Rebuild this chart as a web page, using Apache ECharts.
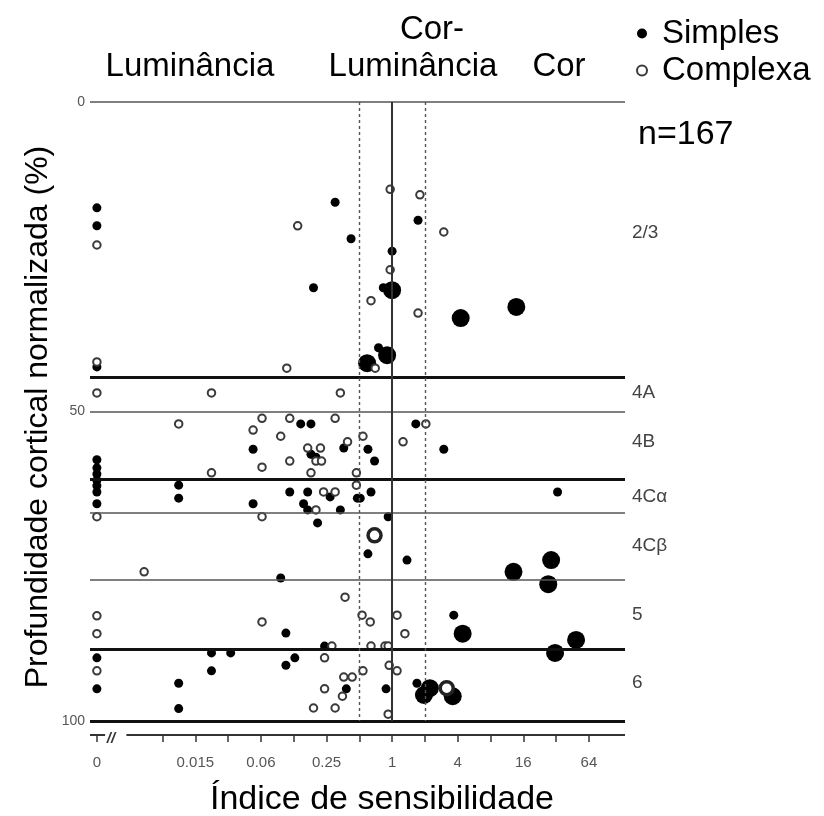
<!DOCTYPE html>
<html><head><meta charset="utf-8">
<script src="https://cdn.jsdelivr.net/npm/echarts@6/dist/echarts.min.js"></script>
<style>html,body{margin:0;padding:0;background:#fff}#c{width:824px;height:816px}</style>
</head><body><div id="c"></div><script>
// Sensitivity index (0 = none) and normalized cortical depth (%)
const simples = [
  [0,17.1],[0,20.0],[0.30,16.2],[0.42,22.1],[0.19,30.0],[0,42.8],[1.73,19.1],[1.0,24.1],[0.83,30.0],[0.75,39.7],
  [0.145,52.0],[0.18,52.0],[0.053,56.1],[0.18,56.9],[0.2,57.4],[0.36,55.9],[1.65,52.0],[0.60,56.1],[0.69,58.0],[2.98,56.1],
  [0,57.8],[0,59.1],[0,60.1],[0,61.1],[0,62.0],[0,63.0],[0,64.9],
  [0.011,61.9],[0.011,64.0],[0.115,63.0],[0.168,63.0],[0.27,63.8],[0.48,64.0],[0.51,64.0],[0.64,63.0],[33,63.0],
  [0.053,64.9],[0.154,64.9],[0.168,65.9],[0.335,65.9],[0.207,68.0],[0.92,67.0],[0.60,73.0],[1.37,74.0],[0.095,76.9],
  [0,89.8],[0,94.8],[0.011,93.9],[0.011,98.0],[0.022,89.0],[0.022,91.9],[0.033,89.0],[0.106,85.8],[0.106,91.0],
  [0.128,89.8],[0.24,87.9],[0.38,94.8],[0.88,94.8],[3.68,82.9],[1.69,93.9]
];
const simplesGrandes = [
  [1.0,30.4],[4.26,34.9],[13.8,33.1],[0.90,40.9],[0.59,42.2],[13.0,75.9],[28.8,74.0],[27.1,77.9],
  [4.44,85.9],[48.8,86.9],[31.3,89.0],[1.96,95.8],[2.22,94.7],[3.60,96.0]
];
const complexa = [
  [0,23.1],[0.136,20.0],[0.96,14.1],[1.80,15.0],[2.98,21.0],[0.96,27.1],[0.64,32.1],[1.73,34.1],[0,42.0],[0.108,43.0],
  [0.70,43.0],[0,47.0],[0.022,47.0],[0.335,47.0],
  [0.011,52.0],[0.064,51.1],[0.115,51.1],[0.30,51.1],[2.04,52.0],[0.053,53.0],[0.095,54.0],[0.168,55.9],[0.22,55.9],
  [0.39,54.9],[0.54,54.0],[1.26,54.9],[0.20,58.0],[0.225,58.0],[0.115,58.0],[0.064,59.0],[0.022,59.9],[0.18,59.9],
  [0.47,59.9],[0.47,61.9],[0.235,63.0],[0.30,63.0],[0.20,65.9],[0,67.0],[0.064,67.0],
  [0.0053,75.9],[0.37,80.0],[0,83.0],[0,85.9],[0,91.9],[0.064,84.0],[0.53,82.9],[0.63,84.0],[1.11,82.9],[1.31,85.9],
  [0.28,87.9],[0.64,87.9],[0.86,87.9],[0.92,87.9],[0.24,89.8],[0.94,91.0],[1.11,91.9],[0.54,91.9],[0.36,92.9],
  [0.43,92.9],[0.24,94.8],[0.35,96.0],[0.19,97.9],[0.30,97.9],[0.92,98.9]
];
const complexaGrandes = [[0.69,70.0],[3.17,94.7]];

const tickValues = [0, 0.0078125, 0.015625, 0.03125, 0.0625, 0.125, 0.25, 0.5, 1, 2, 4, 8, 16, 32, 64];
const labelValues = [0, 0.015625, 0.0625, 0.25, 1, 4, 16, 64];
const tickLabels = ['0', '0.015', '0.06', '0.25', '1', '4', '16', '64'];
const depthLabels = [0, 50, 100];
const layerBounds = [0, 44.4, 50, 60.9, 66.4, 77.2, 88.4, 100];
const thickBounds = [44.4, 60.9, 88.4, 100];
const layerNames = ['2/3', '4A', '4B', '4C\u03b1', '4C\u03b2', '5', '6'];
const layerNameDepth = [21.2, 47.0, 54.9, 63.7, 71.7, 82.9, 93.9];
const refLines = [0.5, 1, 2];
const nCells = 'n=167';

const ZERO_POS = -9;
const toX = v => v === 0 ? ZERO_POS : Math.log2(v);
const conv = arr => arr.map(p => [toX(p[0]), p[1]]);
const FONT = 'Liberation Sans, Arial, sans-serif';

const chart = echarts.init(document.getElementById('c'), null, {renderer: 'canvas'});

const hLines = layerBounds.map(b => {
  const thick = thickBounds.indexOf(b) >= 0;
  return {yAxis: b, lineStyle: {color: thick ? '#111' : '#555', width: thick ? 3 : 1.6, type: 'solid'}};
});
const vLines = refLines.map(r => ({
  xAxis: toX(r),
  lineStyle: r === 1 ? {color: '#333', width: 2, type: 'solid'} : {color: '#555', width: 1.4, type: [3, 3]}
}));

const labelMap = {};
labelValues.forEach((v, i) => { labelMap[toX(v).toFixed(3)] = tickLabels[i]; });

chart.setOption({
  animation: false,
  backgroundColor: '#fff',
  grid: {left: 90, right: 199, top: 102, bottom: 95},
  xAxis: {
    type: 'value', min: -9.21, max: 7.1, offset: 14, position: 'bottom',
    axisLine: {show: false, onZero: false},
    splitLine: {show: false},
    axisTick: {show: true, length: 7, customValues: tickValues.map(toX), lineStyle: {color: '#333', width: 1.5}},
    axisLabel: {
      customValues: labelValues.map(toX), margin: 20, color: '#555', fontSize: 15, fontFamily: FONT,
      formatter: v => labelMap[Number(v).toFixed(3)] || ''
    }
  },
  yAxis: {
    type: 'value', inverse: true, min: 0, max: 100,
    axisLine: {show: false, onZero: false}, axisTick: {show: false}, splitLine: {show: false},
    axisLabel: {customValues: depthLabels, margin: 5, color: '#555', fontSize: 14, fontFamily: FONT}
  },
  legend: {
    orient: 'vertical', left: 631, top: 12, itemWidth: 10, itemHeight: 10, itemGap: 4,
    icon: 'circle',
    textStyle: {fontSize: 33, fontFamily: FONT, color: '#000', padding: [0, 0, 0, 10]},
    data: ['Simples', 'Complexa']
  },
  series: [
    {
      type: 'scatter', name: 'linhas', data: [], silent: true, z: 1,
      markLine: {silent: true, symbol: ['none', 'none'], label: {show: false}, data: hLines.concat(vLines)}
    },
    {
      type: 'scatter', name: 'Simples', z: 3, symbol: 'circle', symbolSize: 9,
      itemStyle: {color: '#000', opacity: 1}, data: conv(simples)
    },
    {
      type: 'scatter', name: 'Simples', z: 3, symbol: 'circle', symbolSize: 18,
      itemStyle: {color: '#000', opacity: 1}, data: conv(simplesGrandes)
    },
    {
      type: 'scatter', name: 'Complexa', z: 4, symbol: 'circle', symbolSize: 7.5,
      itemStyle: {color: '#fff', borderColor: '#3a3a3a', borderWidth: 2, opacity: 1}, data: conv(complexa)
    },
    {
      type: 'scatter', name: 'Complexa', z: 4, symbol: 'circle', symbolSize: 13,
      itemStyle: {color: '#fff', borderColor: '#222', borderWidth: 3.5, opacity: 1}, data: conv(complexaGrandes)
    }
  ]
});

function px(x, y) { return chart.convertToPixel({gridIndex: 0}, [x, y]); }

const g = [];
// x axis line (with break after 0)
const axisY = px(0, 100)[1] + 14;
const xa0 = px(-9.21, 0)[0], xa1 = px(-8.75, 0)[0], xb0 = px(-8.1, 0)[0], xb1 = px(7.1, 0)[0];
g.push({type: 'line', shape: {x1: xa0, y1: axisY, x2: xa1, y2: axisY}, style: {stroke: '#333', lineWidth: 2}});
g.push({type: 'line', shape: {x1: xb0, y1: axisY, x2: xb1, y2: axisY}, style: {stroke: '#333', lineWidth: 2}});
g.push({type: 'text', x: (xa1 + xb0) / 2 - 9, y: axisY - 4, style: {text: '//', font: 'bold italic 15px ' + FONT, fill: '#333'}});

// layer names
layerNames.forEach((n, i) => {
  const p = px(7.1, layerNameDepth[i]);
  g.push({type: 'text', x: p[0] + 7, y: p[1], style: {text: n, font: '19px ' + FONT, fill: '#444', verticalAlign: 'middle'}});
});

// top category labels
const topT = (t, x, y) => g.push({type: 'text', x: x, y: y, style: {text: t, font: '33px ' + FONT, fill: '#000', align: 'center', verticalAlign: 'middle'}});
topT('Lumin\u00e2ncia', 190, 67);
topT('Cor-', 432, 30);
topT('Lumin\u00e2ncia', 413, 67);
topT('Cor', 559, 67);
g.push({type: 'text', x: 638, y: 135, style: {text: nCells, font: '34px ' + FONT, fill: '#000', verticalAlign: 'middle'}});

// axis titles
g.push({type: 'text', x: 382, y: 800, style: {text: '\u00cdndice de sensibilidade', font: '34px ' + FONT, fill: '#000', align: 'center', verticalAlign: 'middle'}});
g.push({type: 'text', x: 38, y: 417, rotation: Math.PI / 2, style: {text: 'Profundidade cortical normalizada (%)', font: '32px ' + FONT, fill: '#000', align: 'center', verticalAlign: 'middle'}});

chart.setOption({graphic: g});
</script></body></html>
